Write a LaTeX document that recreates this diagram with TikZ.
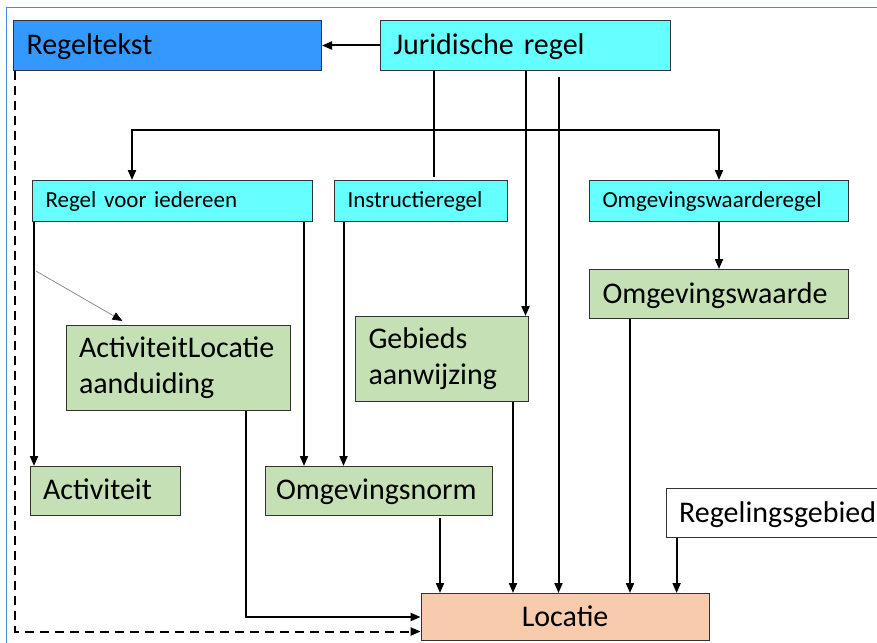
\documentclass[tikz,border=0pt]{standalone}
\usepackage{fontspec}
\setmainfont{Carlito}
\usepackage{xcolor}
\usepackage{tikz}
\usetikzlibrary{arrows.meta,calc}
\definecolor{regelblue}{RGB}{51,153,255}
\definecolor{regelcyan}{RGB}{102,255,255}
\definecolor{objgreen}{RGB}{197,224,180}
\definecolor{locorange}{RGB}{248,203,173}
\definecolor{framecol}{RGB}{70,140,210}
\newcommand{\bigfnt}{\fontsize{30}{36}\selectfont}
\newcommand{\smallfnt}{\fontsize{23}{28}\selectfont}

\begin{document}
\begin{tikzpicture}[x=1pt, y=-1pt,
    box/.style={draw=black!80, line width=1pt, anchor=north west, inner xsep=13pt, inner ysep=0pt, align=left},
    oneline/.style={box, font=\bigfnt, text height=22.5pt, text depth=4.5pt},
    ruleline/.style={box, fill=regelcyan, font=\smallfnt, text height=17.25pt, text depth=3.45pt, minimum height=41pt},
    twoline/.style={box, fill=objgreen, font=\bigfnt},
    arr/.tip={Triangle[length=10pt,width=8pt]},
    link/.style={line width=2pt},
    arrow/.style={link, -arr},
    pointer/.style={gray, line width=0.7pt, -{Triangle[length=10pt,width=8pt,color=black]}}]
    \useasboundingbox (0,0) rectangle (877,642);
    \clip (0,0) rectangle (877,642);
    \draw[framecol, line width=1pt] (6,8) rectangle (900,660);

    % Rules
    \node[oneline, fill=regelblue, minimum height=50pt, text width=282pt] (tekst) at (13,20) {Regeltekst};
    \node[oneline, fill=regelcyan, minimum height=50pt, text width=264pt] (jur) at (380,20) {Juridische regel};
    \node[ruleline, text width=254pt] (rvi) at (32,180) {Regel voor iedereen};
    \node[ruleline, text width=147pt] (instr) at (334,180) {Instructieregel};
    \node[ruleline, text width=233pt] (owr) at (589,180) {Omgevingswaarderegel};

    % Objects
    \node[oneline, fill=objgreen, minimum height=49pt, text width=233pt] (owd) at (589,269) {Omgevingswaarde};
    \node[twoline, minimum height=85pt, text width=198pt] (ala) at (65.5,325) {ActiviteitLocatie\\aanduiding};
    \node[twoline, minimum height=85pt, text width=147pt] (gba) at (355,316) {Gebieds\\aanwijzing};
    \node[oneline, fill=objgreen, minimum height=48.6pt, text width=124pt] (act) at (29.6,466) {Activiteit};
    \node[oneline, fill=objgreen, minimum height=48.6pt, inner xsep=11pt, text width=205.4pt] (omn) at (264.6,466) {Omgevingsnorm};
    \node[oneline, fill=white, minimum height=49pt, text width=204pt] (rgb) at (665.6,488) {Regelingsgebied};
    \node[oneline, fill=locorange, minimum height=47pt, text width=262pt, align=center] (loc) at (420.6,593) {Locatie};

    % Juridische regel
    \coordinate (bus) at (0,130);
    \draw[arrow] (jur.west) -- (tekst.east);
    \draw[link] ($(jur.south west)+(54,0)$) -- ($(jur.south west |- instr.north)+(54,-3)$);
    \draw[link, arr-arr] ($(rvi.north west)+(100,0)$) |- (bus -| owr.north) -- (owr.north);
    \draw[arrow] (jur.south) -- (jur.south |- gba.north);
    \draw[arrow] ($(jur.south)+(33,6)$) -- ($(jur.south |- loc.north)+(33,0)$);

    % Regel voor iedereen and Instructieregel
    \coordinate (fork) at ($(rvi.south west)+(4,49)$);
    \draw[arrow] ($(rvi.south west)+(2,0)$) -- ($(rvi.south west |- act.north)+(2,0)$);
    \draw[arrow] ($(rvi.south east)+(-9,0)$) -- ($(rvi.south east |- omn.north)+(-9,0)$);
    \draw[pointer] (fork) -- ($(ala.north west)+(57,-4)$);
    \draw[arrow] ($(instr.south west)+(9.5,0)$) -- ($(instr.south west |- omn.north)+(9.5,0)$);

    % Omgevingswaarde
    \draw[arrow] (owr.south) -- (owd.north);
    \draw[arrow] ($(owd.south west)+(41,0)$) -- ($(owd.south west |- loc.north)+(41,0)$);

    % Locatie
    \draw[arrow] ($(ala.south east)+(-45,0)$) |- (loc.west);
    \draw[arrow] ($(omn.south east)+(-53,2)$) -- ($(omn.south east |- loc.north)+(-53,0)$);
    \draw[arrow] ($(gba.south east)+(-16,0)$) -- ($(gba.south east |- loc.north)+(-16,0)$);
    \draw[arrow] ($(rgb.south west)+(11,0)$) -- ($(rgb.south west |- loc.north)+(11,0)$);
    \draw[arrow, dash pattern=on 9pt off 6pt] ($(tekst.south west)+(2,0)$) |- ($(loc.west)+(0,14.5)$);
\end{tikzpicture}
\end{document}
